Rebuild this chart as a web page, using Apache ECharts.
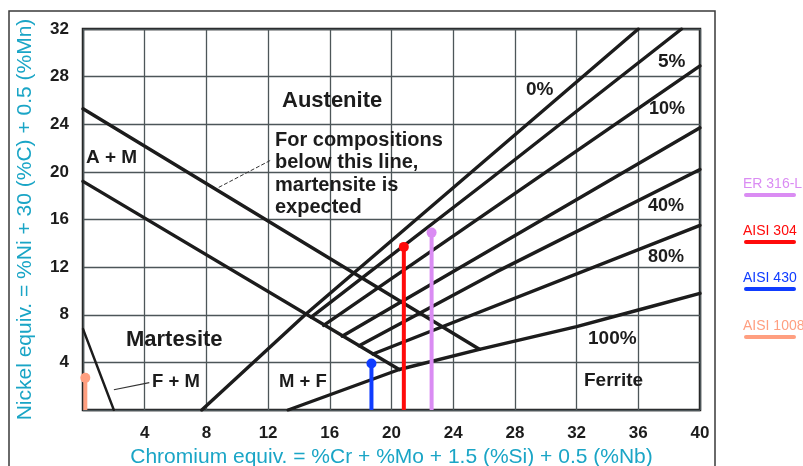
<!DOCTYPE html>
<html>
<head>
<meta charset="utf-8">
<script src="https://cdn.jsdelivr.net/npm/echarts@6/dist/echarts.min.js"></script>
<style>
  html, body { margin: 0; padding: 0; background: #fff; }
  #chart { width: 803px; height: 466px; }
</style>
</head>
<body>
<div id="chart"></div>
<script>
// Schaeffler constitution diagram for stainless steel weld metal

// Axis ranges and tick step (Cr equivalent on x, Ni equivalent on y)
const crRange = [0, 40];
const niRange = [0, 32];
const tickStep = 4;

// Iso-ferrite lines (ferrite percentage -> polyline of [Cr eq, Ni eq])
const ferriteNames = ['0%', '5%', '10%', '20%', '40%', '80%', '100%'];
const ferrite0 = [[7.7, 0], [14.4, 8.0], [36.0, 32]];
const ferrite5 = [[14.8, 7.8], [26.4, 19.4], [38.8, 32]];
const ferrite10 = [[15.6, 7.1], [40, 28.9]];
const ferrite20 = [[16.8, 6.2], [40, 23.7]];
const ferrite40 = [[17.9, 5.4], [26.8, 11.6], [40, 20.2]];
const ferrite80 = [[18.8, 4.7], [40, 15.5]];
const ferrite100 = [[13.3, 0], [20.5, 3.4], [25.7, 5.1], [32, 7.0], [36, 8.4], [40, 9.8]];

// Phase boundaries
const martensiteLimit = [[0, 25.3], [25.7, 5.1]];     // below this line martensite is expected
const martensiteBoundary = [[0, 19.2], [20.5, 3.4]];  // A+M / martensite boundary
const ferriteMartBoundary = [[0, 6.8], [2.0, 0]];     // F+M corner

// Leader lines for the annotations
const limitLeader = [[8.8, 18.7], [12.2, 21.0]];
const fmLeader = [[2.0, 1.7], [4.3, 2.3]];

// Materials plotted on the diagram
const materialNames = ['ER 316-L', 'AISI 304', 'AISI 430', 'AISI 1008'];
const materialCr = [22.6, 20.8, 18.7, 0.15];
const materialNi = [14.9, 13.7, 3.9, 2.7];
const materialColors = ['#da8cf3', '#ff0a0a', '#0f3cff', '#ff9f80'];

const ferriteLines = [ferrite0, ferrite5, ferrite10, ferrite20, ferrite40, ferrite80, ferrite100];

const ink = '#1c1c1c';
const textFont = 'Liberation Sans, Arial, sans-serif';
const cyan = '#1aa5c6';

function boundarySeries(name, pts, width, extra) {
  return Object.assign({
    name: name,
    type: 'line',
    data: pts,
    symbol: 'none',
    silent: true,
    clip: true,
    lineStyle: { color: ink, width: width, cap: 'round', join: 'round' },
    z: 3
  }, extra || {});
}

const series = [];
ferriteLines.forEach((pts, i) => series.push(boundarySeries('ferrite ' + ferriteNames[i], pts, 3.4)));
series.push(boundarySeries('martensite limit', martensiteLimit, 3.4));
series.push(boundarySeries('martensite boundary', martensiteBoundary, 3.4));
series.push(boundarySeries('F+M boundary', ferriteMartBoundary, 2.4));
series.push(boundarySeries('limit leader', limitLeader, 1, { lineStyle: { color: '#333', width: 1, type: [4, 2] } }));
series.push(boundarySeries('F+M leader', fmLeader, 1, { lineStyle: { color: '#333', width: 1.2 } }));

// Vertical stems from the x-axis up to each material's composition point
materialNames.forEach((name, i) => {
  series.push({
    name: name,
    type: 'line',
    symbol: 'circle',
    symbolSize: 10,
    clip: false,
    silent: true,
    z: 5,
    itemStyle: { color: materialColors[i] },
    lineStyle: { color: materialColors[i], width: 4 },
    data: [
      { value: [materialCr[i], 0], symbol: 'none' },
      { value: [materialCr[i], materialNi[i]] }
    ]
  });
});

function txt(text, left, cy, size) {
  return {
    type: 'text',
    x: left,
    y: cy,
    style: {
      text: text,
      font: 'bold ' + size + 'px ' + textFont,
      fill: ink,
      verticalAlign: 'middle',
      align: 'left'
    },
    z: 10
  };
}

const graphics = [
  // outer frame around the figure
  { type: 'rect', shape: { x: 9, y: 11, width: 706, height: 480 },
    style: { fill: 'none', stroke: '#3a3a3a', lineWidth: 1.5 }, z: 0, silent: true },
  txt('Austenite', 282, 101, 22),
  txt('For compositions', 275, 140, 20),
  txt('below this line,', 275, 162, 20),
  txt('martensite is', 275, 185, 20),
  txt('expected', 275, 207, 20),
  txt('A + M', 86, 158, 19),
  txt('Martesite', 126, 340, 22),
  txt('F + M', 152, 382, 18.5),
  txt('M + F', 279, 382, 18.5),
  txt('Ferrite', 584, 381, 19),
  txt(ferriteNames[0], 526, 90, 19),
  txt(ferriteNames[1], 658, 62, 19),
  txt(ferriteNames[2], 649, 109, 18),
  txt(ferriteNames[4], 648, 206, 18),
  txt(ferriteNames[5], 648, 257, 18),
  txt(ferriteNames[6], 588, 339, 19)
];

// Legend: coloured name with a swatch bar underneath
const legendTop = [184, 231, 278, 326];
materialNames.forEach((name, i) => {
  graphics.push({
    type: 'text', x: 743, y: legendTop[i], z: 10,
    style: { text: name, font: 'normal 14px ' + textFont, fill: materialColors[i], verticalAlign: 'middle', align: 'left' }
  });
  graphics.push({
    type: 'rect', z: 10,
    shape: { x: 744, y: legendTop[i] + 9, width: 52, height: 4, r: 2 },
    style: { fill: materialColors[i] }
  });
});

const chart = echarts.init(document.getElementById('chart'), null, { renderer: 'canvas' });
chart.setOption({
  animation: false,
  backgroundColor: '#fff',
  grid: {
    left: 83, top: 29, width: 617, height: 381,
    outerBoundsMode: 'none',
    containLabel: false,
    show: true, borderColor: '#202020', borderWidth: 2.5, backgroundColor: 'transparent'
  },
  xAxis: {
    type: 'value',
    min: crRange[0], max: crRange[1], interval: tickStep,
    name: 'Chromium equiv. = %Cr + %Mo + 1.5 (%Si) + 0.5 (%Nb)',
    nameLocation: 'middle', nameGap: 34,
    nameTextStyle: { color: cyan, fontSize: 21, fontFamily: textFont },
    axisLine: { show: false },
    axisTick: { show: false },
    axisLabel: {
      margin: 15, color: ink, fontSize: 17, fontWeight: 'bold', fontFamily: textFont,
      formatter: v => (v === 0 ? '' : String(v))
    },
    splitLine: { show: true, lineStyle: { color: '#4d5659', width: 1.3 } }
  },
  yAxis: {
    type: 'value',
    min: niRange[0], max: niRange[1], interval: tickStep,
    name: 'Nickel equiv. = %Ni + 30 (%C) + 0.5 (%Mn)',
    nameLocation: 'middle', nameGap: 47, nameRotate: 90,
    nameTextStyle: { color: cyan, fontSize: 21, fontFamily: textFont },
    axisLine: { show: false },
    axisTick: { show: false },
    axisLabel: {
      margin: 14, color: ink, fontSize: 17, fontWeight: 'bold', fontFamily: textFont,
      formatter: v => (v === 0 ? '' : String(v))
    },
    splitLine: { show: true, lineStyle: { color: '#4d5659', width: 1.3 } }
  },
  series: series,
  graphic: graphics
});
</script>
</body>
</html>
